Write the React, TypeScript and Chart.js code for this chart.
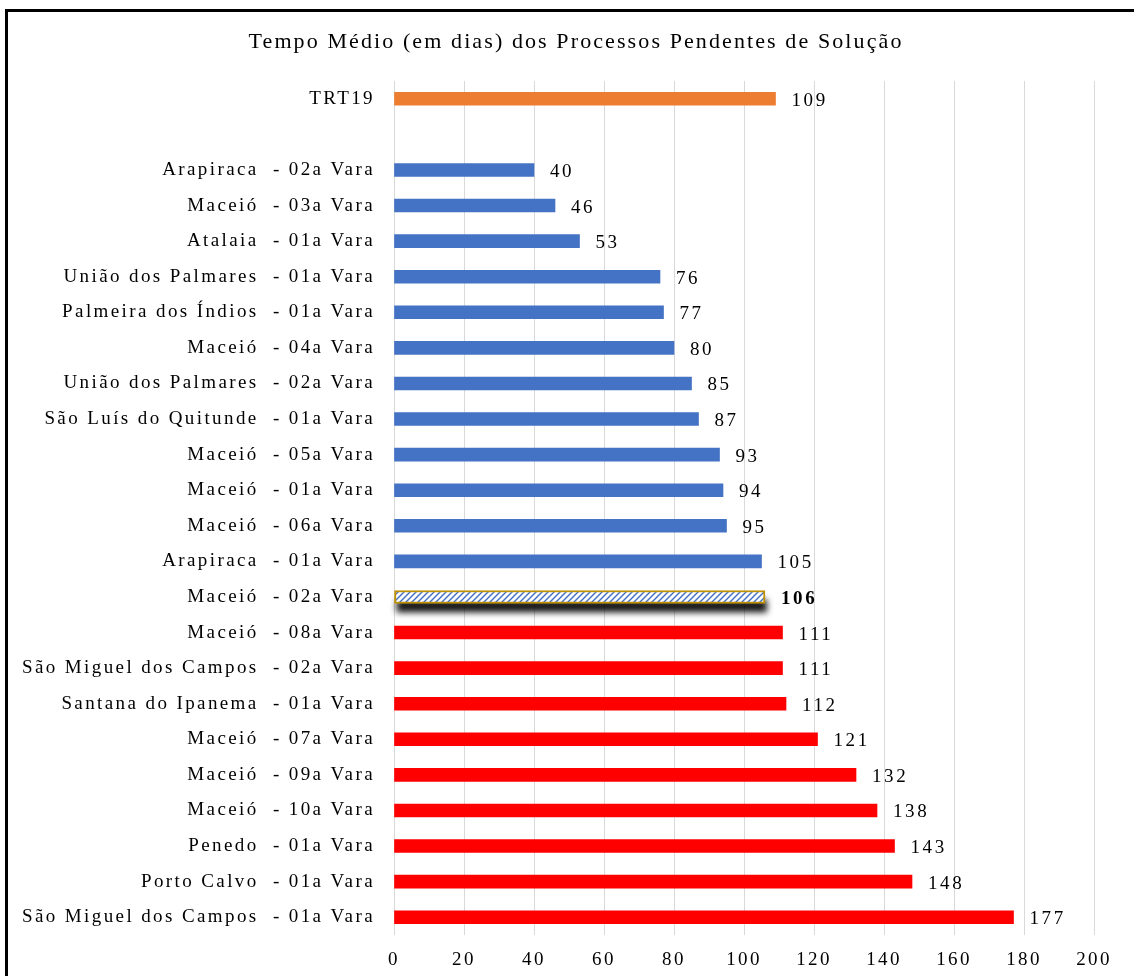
import React, { useEffect, useRef } from "react";
import { Chart, registerables } from "chart.js";

Chart.register(...registerables);

const chartTitle = "Tempo Médio (em dias) dos Processos Pendentes de Solução";

const categories: string[] = [
  "TRT19",
  "",
  "Arapiraca  - 02a Vara",
  "Maceió  - 03a Vara",
  "Atalaia  - 01a Vara",
  "União dos Palmares  - 01a Vara",
  "Palmeira dos Índios  - 01a Vara",
  "Maceió  - 04a Vara",
  "União dos Palmares  - 02a Vara",
  "São Luís do Quitunde  - 01a Vara",
  "Maceió  - 05a Vara",
  "Maceió  - 01a Vara",
  "Maceió  - 06a Vara",
  "Arapiraca  - 01a Vara",
  "Maceió  - 02a Vara",
  "Maceió  - 08a Vara",
  "São Miguel dos Campos  - 02a Vara",
  "Santana do Ipanema  - 01a Vara",
  "Maceió  - 07a Vara",
  "Maceió  - 09a Vara",
  "Maceió  - 10a Vara",
  "Penedo  - 01a Vara",
  "Porto Calvo  - 01a Vara",
  "São Miguel dos Campos  - 01a Vara",
];

const values: (number | null)[] = [
  109, null, 40, 46, 53, 76, 77, 80, 85, 87, 93, 94, 95, 105, 106, 111, 111, 112, 121, 132, 138, 143, 148, 177,
];

// group per bar: "total", "below", "highlight", "above"
const groups: string[] = [
  "total", "none",
  "below", "below", "below", "below", "below", "below", "below", "below", "below", "below", "below", "below",
  "highlight",
  "above", "above", "above", "above", "above", "above", "above", "above", "above",
];

const xTicks = { min: 0, max: 200, step: 20 };

const SERIF = "'Liberation Serif', 'Times New Roman', serif";
const SPACING = "2.4px";

function makeHatch(): CanvasPattern | string {
  const c = document.createElement("canvas");
  c.width = 6;
  c.height = 6;
  const g = c.getContext("2d");
  if (!g) return "#ffffff";
  g.fillStyle = "#ffffff";
  g.fillRect(0, 0, 6, 6);
  g.strokeStyle = "#4472C4";
  g.lineWidth = 1.5;
  g.beginPath();
  g.moveTo(0, 6);
  g.lineTo(6, 0);
  g.moveTo(-3, 3);
  g.lineTo(3, -3);
  g.moveTo(3, 9);
  g.lineTo(9, 3);
  g.stroke();
  const p = g.createPattern(c, "repeat");
  return p || "#ffffff";
}

export default function App() {
  const ref = useRef<HTMLCanvasElement | null>(null);

  useEffect(() => {
    if (!ref.current) return;
    const hatch = makeHatch();
    const colorFor = (gname: string) =>
      gname === "total" ? "#ED7D31" : gname === "below" ? "#4472C4" : gname === "above" ? "#FF0000" : gname === "highlight" ? hatch : "transparent";

    const framePlugin = {
      id: "frame",
      beforeDraw(chart: any) {
        const ctx = chart.ctx;
        ctx.save();
        ctx.fillStyle = "#ffffff";
        ctx.fillRect(0, 0, chart.width, chart.height);
        ctx.fillStyle = "#000000";
        ctx.fillRect(5, 9, 3, chart.height - 9);
        ctx.fillRect(5, 9, chart.width - 5, 3);
        ctx.font = `22px ${SERIF}`;
        ctx.letterSpacing = "2.1px";
        ctx.textAlign = "center";
        ctx.textBaseline = "middle";
        ctx.fillText(chartTitle, 576, 42);
        ctx.restore();
        ctx.letterSpacing = SPACING;
      },
    };

    const shadowPlugin = {
      id: "shadow",
      beforeDatasetsDraw(chart: any) {
        const meta = chart.getDatasetMeta(0);
        const ctx = chart.ctx;
        groups.forEach((gname, i) => {
          if (gname !== "highlight") return;
          const el: any = meta.data[i];
          if (!el) return;
          const left = Math.min(el.base, el.x);
          const right = Math.max(el.base, el.x);
          const h = el.height;
          ctx.save();
          ctx.filter = "blur(3px)";
          ctx.fillStyle = "rgba(0,0,0,0.9)";
          ctx.fillRect(left + 2, el.y - h / 2 + 9, right - left, h);
          ctx.restore();
        });
      },
    };

    const labelPlugin = {
      id: "valueLabels",
      afterDatasetsDraw(chart: any) {
        const meta = chart.getDatasetMeta(0);
        const ctx = chart.ctx;
        ctx.save();
        ctx.letterSpacing = "2.6px";
        ctx.fillStyle = "#000000";
        ctx.textAlign = "left";
        ctx.textBaseline = "middle";
        values.forEach((v, i) => {
          if (v === null) return;
          const el: any = meta.data[i];
          if (!el) return;
          ctx.font = `${groups[i] === "highlight" ? "bold " : ""}19px ${SERIF}`;
          ctx.fillText(String(v), el.x + 16, el.y + 2);
        });
        ctx.restore();
      },
    };

    const chart = new Chart(ref.current, {
      type: "bar",
      data: {
        labels: categories,
        datasets: [
          {
            data: values as any,
            backgroundColor: groups.map(colorFor) as any,
            borderColor: groups.map((g) => (g === "highlight" ? "#BF9000" : "transparent")),
            borderWidth: groups.map((g) => (g === "highlight" ? 2 : 0)),
            borderSkipped: false,
            barThickness: 13,
          },
        ],
      },
      options: {
        indexAxis: "y",
        animation: false,
        responsive: false,
        maintainAspectRatio: false,
        layout: { padding: { top: 81, right: 40, bottom: 0, left: 0 } },
        plugins: {
          legend: { display: false },
          title: { display: false },
          tooltip: { enabled: false },
        },
        scales: {
          x: {
            min: xTicks.min,
            max: xTicks.max,
            ticks: {
              stepSize: xTicks.step,
              color: "#000000",
              font: { family: SERIF, size: 19 },
              padding: 14,
            },
            grid: { color: "#d9d9d9", lineWidth: 1, drawTicks: false },
            border: { display: false },
            afterFit(scale: any) {
              scale.height = 41;
            },
          },
          y: {
            ticks: {
              color: "#000000",
              font: { family: SERIF, size: 19 },
              padding: 19,
              autoSkip: false,
            },
            grid: { display: false, drawTicks: false },
            border: { display: false },
            afterFit(scale: any) {
              scale.width = 394;
            },
          },
        },
      },
      plugins: [framePlugin, shadowPlugin, labelPlugin],
    } as any);

    return () => chart.destroy();
  }, []);

  return (
    <div style={{ position: "absolute", left: 0, top: 0, width: 1134, height: 976 }}>
      <canvas ref={ref} width={1134} height={976} style={{ display: "block", width: 1134, height: 976 }} />
    </div>
  );
}
